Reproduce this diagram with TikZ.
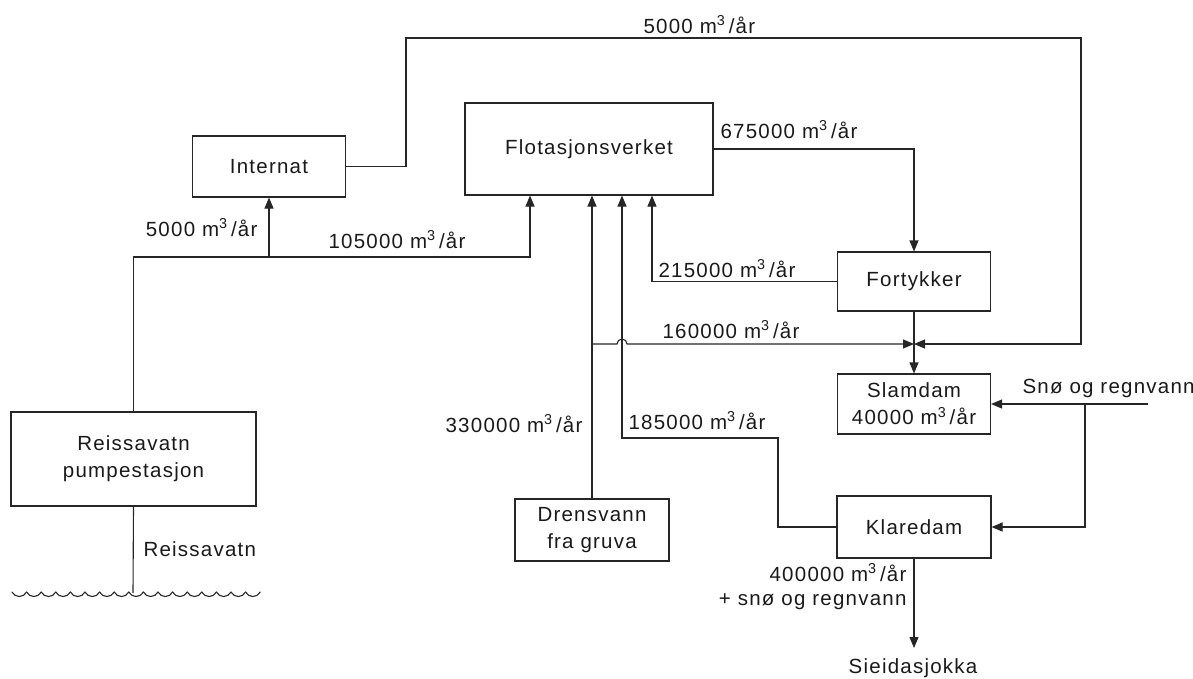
\documentclass[tikz,border=0pt]{standalone}
\usepackage{fontspec}
\setmainfont{Liberation Sans}[LetterSpace=6]
\usetikzlibrary{arrows.meta,calc}
\newcommand\myfs{\fontsize{20.5}{27}\selectfont}
\newcommand\vol{m\textsuperscript{3}\,/år}
\begin{document}
\begin{tikzpicture}[x=1pt,y=-1pt, line width=1.1pt, draw=black!85,
  box/.style={draw=black!85, rectangle, inner sep=0pt, align=center, font=\myfs, text=black!90},
  lbl/.style={inner sep=0pt, font=\myfs, text=black!90},
  arr/.style={-{Triangle[length=11pt,width=9pt]}},
  wave/.style={line cap=round}]
\useasboundingbox (0,0) rectangle (1193,678);

% boxes
\node[box, minimum width=153pt, minimum height=61pt] (intern) at (269,166.5) {Internat};
\node[box, minimum width=248pt, minimum height=92pt] (flot) at (589,149) {Flotasjonsverket};
\node[box, minimum width=153pt, minimum height=59pt] (fort) at (914,281.5) {Fortykker};
\node[box, minimum width=153pt, minimum height=60pt] (slam) at (914,404) {Slamdam\\40000 \vol};
\node[box, minimum width=154pt, minimum height=62pt] (klar) at (914,527) {Klaredam};
\node[box, minimum width=245pt, minimum height=94pt] (reis) at (133.5,459) {Reissavatn\\pumpestasjon};
\node[box, minimum width=154pt, minimum height=62pt] (dren) at (592,530) {Drensvann\\fra gruva};

% coordinates
\coordinate (f1) at (530,257);
\coordinate (t1) at (406,38);
\coordinate (t2) at (1081,38);
\coordinate (J) at (914,344);
\coordinate (d1) at (592,344);
\coordinate (k1) at (778,438);
\coordinate (k2) at (622,438);
\coordinate (r1) at (652,220);
\coordinate (s0) at (1148,404);
\coordinate (s1) at (1085,404);
\coordinate (out) at (914,648);
\coordinate (wl) at (133,593);

% connectors
\draw[arr] (reis.north) |- (f1) -- (f1 |- flot.south);
\draw[arr] (intern.south |- f1) -- (intern.south);
\draw[arr] (intern.east) -| (t1) -- (t2) |- (J);
\draw (fort.south) -- (J);
\draw[arr] (J) -- (slam.north);
\draw[arr] (dren.north) -- (dren.north |- flot.south);
\draw[arr] (d1) -- (617,344) arc[start angle=180, end angle=0, radius=5pt] -- (J);
\draw[arr] (klar.west) -| (k1) -- (k2) -- (k2 |- flot.south);
\draw[arr] (fort.west) -| (r1 |- flot.south);
\draw[arr] (flot.east) -| (fort.north);
\draw[arr] (s0) -- (slam.east);
\draw[arr] (s1) |- (klar.east);
\draw[arr] (klar.south) -- (out);
\draw (reis.south) -- (wl);

% water surface
\foreach \i in {0,...,16} {
  \pgfmathsetmacro\xa{12+14.6*\i}
  \pgfmathsetmacro\xb{\xa+14.6}
  \draw[wave] (\xa,592) .. controls (\xa+3,598) and (\xb-3,598) .. (\xb,592);
}

% labels
\node[lbl, anchor=base west] (l1) at (643,33) {5000 \vol};
\node[lbl, anchor=base west] (l2) at (720,138) {675000 \vol};
\node[lbl, anchor=base east] (l3) at (258,236) {5000 \vol};
\node[lbl, anchor=base west] (l4) at (328,248) {105000 \vol};
\node[lbl, anchor=base west] (l5) at (658,277) {215000 \vol};
\node[lbl, anchor=base west] (l6) at (662,338) {160000 \vol};
\node[lbl, anchor=base east] (l7) at (583,432) {330000 \vol};
\node[lbl, anchor=base west] (l8) at (628,429) {185000 \vol};
\node[lbl, anchor=base west] (l9) at (1022,393) {Snø og regnvann};
\node[lbl, anchor=base east] (l10) at (907,581) {400000 \vol};
\node[lbl, anchor=base east] (l11) at (907,605) {+ snø og regnvann};
\node[lbl, anchor=base] (l12) at (913,673) {Sieidasjokka};
\node[lbl, anchor=base west] (l13) at (143,556) {Reissavatn};
\end{tikzpicture}
\end{document}
